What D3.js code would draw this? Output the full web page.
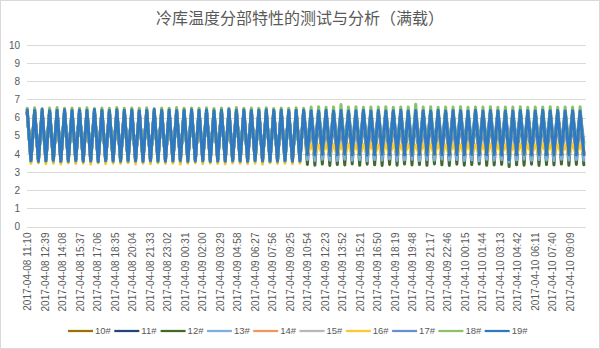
<!DOCTYPE html>
<html lang="zh">
<head>
<meta charset="utf-8">
<script src="https://cdn.jsdelivr.net/npm/d3@7/dist/d3.min.js"></script>
<style>
  body { margin: 0; background: #fff; }
  text { font-family: "Liberation Sans", "Noto Sans CJK SC", sans-serif; fill: #595959; }
  .title { font-family: "Noto Sans CJK SC", sans-serif; font-size: 16px; }
  .grid line { stroke: #d9d9d9; stroke-width: 1; }
  .axis path, .axis line { display: none; }
  .line { fill: none; stroke-width: 3; stroke-linejoin: round; stroke-linecap: round; }
  .legend text { font-size: 9.5px; }
</style>
</head>
<body>
<div id="chart"></div>
<script>

// 标题 / 系列
var title = "冷库温度分部特性的测试与分析（满载）";
var seriesNames = ["10#", "11#", "12#", "13#", "14#", "15#", "16#", "17#", "18#", "19#"];
var seriesColors = ["#997300", "#264478", "#43682B", "#7CAFDD", "#F1975A", "#B7B7B7", "#FFC72C", "#698ED0", "#8CC168", "#2F78C4"];

// x-axis category labels (every 89 min)
var tickLabels = ["2017-04-08 11:10", "2017-04-08 12:39", "2017-04-08 14:08", "2017-04-08 15:37", "2017-04-08 17:06",
    "2017-04-08 18:35", "2017-04-08 20:04", "2017-04-08 21:33", "2017-04-08 23:02", "2017-04-09 00:31",
    "2017-04-09 02:00", "2017-04-09 03:29", "2017-04-09 04:58", "2017-04-09 06:27", "2017-04-09 07:56",
    "2017-04-09 09:25", "2017-04-09 10:54", "2017-04-09 12:23", "2017-04-09 13:52", "2017-04-09 15:21",
    "2017-04-09 16:50", "2017-04-09 18:19", "2017-04-09 19:48", "2017-04-09 21:17", "2017-04-09 22:46",
    "2017-04-10 00:15", "2017-04-10 01:44", "2017-04-10 03:13", "2017-04-10 04:42", "2017-04-10 06:11",
    "2017-04-10 07:40", "2017-04-10 09:09"];
var yTicks = [0, 1, 2, 3, 4, 5, 6, 7, 8, 9, 10];

// samples: one reading every 19 min (alternating top / bottom of each cooling cycle)
var sampleStart = "2017-04-08 11:10";
var sampleStepMin = 19;

var s10 = [6.28,3.72,6.29,3.71,6.27,3.73,6.28,3.72,6.30,3.71,
    6.27,3.73,6.29,3.72,6.28,3.71,6.30,3.73,6.27,3.72,
    6.29,3.71,6.28,3.73,6.27,3.72,6.30,3.71,6.28,3.73,
    6.27,3.72,6.29,3.71,6.28,3.73,6.30,3.72,6.27,3.71,
    6.29,3.73,6.28,3.72,6.27,3.71,6.30,3.73,6.28,3.72,
    6.27,3.71,6.29,3.73,6.28,3.72,6.30,3.71,6.27,3.73,
    6.29,3.72,6.28,3.71,6.27,3.73,6.30,3.72,6.28,3.71,
    6.27,3.73,6.29,3.72,6.28,
    4.08,6.22,4.07,6.23,4.09,6.21,4.08,6.22,4.10,6.23,
    4.07,6.21,4.09,6.22,4.08,6.23,4.07,6.21,4.10,6.22,
    4.08,6.23,4.09,6.21,4.07,6.22,4.08,6.23,4.10,6.21,
    4.07,6.22,4.09,6.23,4.08,6.21,4.07,6.22,4.10,6.23,
    4.08,6.21,4.09,6.22,4.07,6.23,4.08,6.21,4.10,6.22,
    4.07,6.23,4.09,6.21,4.08,6.22,4.07,6.23,4.10,6.21,
    4.08,6.22,4.09,6.23,4.07,6.21,4.08,6.22,4.10,6.23,
    4.07,6.21,4.09,6.22,4.08];

var s11 = [6.30,3.70,6.31,3.69,6.29,3.71,6.30,3.70,6.32,3.69,
    6.29,3.71,6.31,3.70,6.30,3.69,6.32,3.71,6.29,3.70,
    6.31,3.69,6.30,3.71,6.29,3.70,6.32,3.69,6.30,3.71,
    6.29,3.70,6.31,3.69,6.30,3.71,6.32,3.70,6.29,3.69,
    6.31,3.71,6.30,3.70,6.29,3.69,6.32,3.71,6.30,3.70,
    6.29,3.69,6.31,3.71,6.30,3.70,6.32,3.69,6.29,3.71,
    6.31,3.70,6.30,3.69,6.29,3.71,6.32,3.70,6.30,3.69,
    6.29,3.71,6.31,3.70,6.30,
    3.90,6.30,3.89,6.31,3.91,6.29,3.90,6.30,3.92,6.31,
    3.89,6.29,3.91,6.30,3.90,6.31,3.89,6.29,3.92,6.30,
    3.90,6.31,3.91,6.29,3.89,6.30,3.90,6.31,3.92,6.29,
    3.89,6.30,3.91,6.31,3.90,6.29,3.89,6.30,3.92,6.31,
    3.90,6.29,3.91,6.30,3.89,6.31,3.90,6.29,3.92,6.30,
    3.89,6.31,3.91,6.29,3.90,6.30,3.89,6.31,3.92,6.29,
    3.90,6.30,3.91,6.31,3.89,6.29,3.90,6.30,3.92,6.31,
    3.89,6.29,3.91,6.30,3.90];

var s12 = [6.28,3.66,6.27,3.67,6.29,3.65,6.28,3.66,6.26,3.67,
    6.29,3.65,6.27,3.66,6.28,3.67,6.26,3.65,6.29,3.66,
    6.27,3.67,6.28,3.65,6.29,3.66,6.26,3.67,6.28,3.65,
    6.27,3.66,6.29,3.67,6.28,3.65,6.26,3.66,6.27,3.67,
    6.29,3.65,6.28,3.66,6.27,3.67,6.26,3.65,6.29,3.66,
    6.28,3.67,6.27,3.65,6.29,3.66,6.26,3.67,6.28,3.65,
    6.27,3.66,6.29,3.67,6.28,3.65,6.26,3.66,6.27,3.67,
    6.29,3.65,6.28,3.66,6.27,
    3.42,6.20,3.38,6.21,3.44,6.19,3.36,6.20,3.41,6.22,
    3.39,6.19,3.45,6.21,3.37,6.20,3.43,6.22,3.40,6.19,
    3.36,6.21,3.42,6.20,3.38,6.22,3.44,6.19,3.39,6.21,
    3.41,6.20,3.37,6.22,3.45,6.19,3.40,6.21,3.36,6.20,
    3.43,6.22,3.38,6.19,3.41,6.21,3.44,6.20,3.37,6.22,
    3.39,6.19,3.42,6.21,3.30,6.20,3.40,6.22,3.38,6.19,
    3.43,6.21,3.36,6.20,3.41,6.22,3.39,6.19,3.44,6.21,
    3.37,6.20,3.42,6.22,3.40];

var s13 = [6.30,3.68,6.31,3.67,6.29,3.69,6.30,3.68,6.32,3.67,
    6.29,3.69,6.31,3.68,6.30,3.67,6.32,3.69,6.29,3.68,
    6.31,3.67,6.30,3.69,6.29,3.68,6.32,3.67,6.30,3.69,
    6.29,3.68,6.31,3.67,6.30,3.69,6.32,3.68,6.29,3.67,
    6.31,3.69,6.30,3.68,6.29,3.67,6.32,3.69,6.30,3.68,
    6.29,3.67,6.31,3.69,6.30,3.68,6.32,3.67,6.29,3.69,
    6.31,3.68,6.30,3.67,6.29,3.69,6.32,3.68,6.30,3.67,
    6.29,3.69,6.31,3.68,6.30,
    3.68,6.22,3.64,6.23,3.70,6.21,3.66,6.22,3.63,6.24,
    3.71,6.21,3.65,6.23,3.68,6.22,3.62,6.24,3.69,6.21,
    3.66,6.23,3.72,6.22,3.64,6.24,3.67,6.21,3.70,6.23,
    3.63,6.22,3.68,6.24,3.65,6.21,3.71,6.23,3.66,6.22,
    3.69,6.24,3.64,6.21,3.67,6.23,3.62,6.22,3.70,6.24,
    3.65,6.21,3.68,6.23,3.55,6.22,3.66,6.24,3.71,6.21,
    3.64,6.23,3.69,6.22,3.67,6.24,3.63,6.21,3.70,6.23,
    3.66,6.22,3.68,6.24,3.65];

var s14 = [6.28,3.74,6.29,3.73,6.27,3.75,6.28,3.74,6.30,3.73,
    6.27,3.75,6.29,3.74,6.28,3.73,6.30,3.75,6.27,3.74,
    6.29,3.73,6.28,3.75,6.27,3.74,6.30,3.73,6.28,3.75,
    6.27,3.74,6.29,3.73,6.28,3.75,6.30,3.74,6.27,3.73,
    6.29,3.75,6.28,3.74,6.27,3.73,6.30,3.75,6.28,3.74,
    6.27,3.73,6.29,3.75,6.28,3.74,6.30,3.73,6.27,3.75,
    6.29,3.74,6.28,3.73,6.27,3.75,6.30,3.74,6.28,3.73,
    6.27,3.75,6.29,3.74,6.28,
    4.05,6.26,4.04,6.27,4.06,6.25,4.05,6.26,4.07,6.27,
    4.04,6.25,4.06,6.26,4.05,6.27,4.04,6.25,4.07,6.26,
    4.05,6.27,4.06,6.25,4.04,6.26,4.05,6.27,4.07,6.25,
    4.04,6.26,4.06,6.27,4.05,6.25,4.04,6.26,4.07,6.27,
    4.05,6.25,4.06,6.26,4.04,6.27,4.05,6.25,4.07,6.26,
    4.04,6.27,4.06,6.25,4.05,6.26,4.04,6.27,4.07,6.25,
    4.05,6.26,4.06,6.27,4.04,6.25,4.05,6.26,4.07,6.27,
    4.04,6.25,4.06,6.26,4.05];

var s15 = [6.30,3.72,6.31,3.71,6.29,3.73,6.30,3.72,6.32,3.71,
    6.29,3.73,6.31,3.72,6.30,3.71,6.32,3.73,6.29,3.72,
    6.31,3.71,6.30,3.73,6.29,3.72,6.32,3.71,6.30,3.73,
    6.29,3.72,6.31,3.71,6.30,3.73,6.32,3.72,6.29,3.71,
    6.31,3.73,6.30,3.72,6.29,3.71,6.32,3.73,6.30,3.72,
    6.29,3.71,6.31,3.73,6.30,3.72,6.32,3.71,6.29,3.73,
    6.31,3.72,6.30,3.71,6.29,3.73,6.32,3.72,6.30,3.71,
    6.29,3.73,6.31,3.72,6.30,
    4.52,5.90,4.49,5.92,4.55,5.88,4.50,5.91,4.57,5.89,
    4.48,5.92,4.53,5.90,4.51,5.88,4.56,5.91,4.49,5.89,
    4.54,5.92,4.50,5.90,4.58,5.88,4.52,5.91,4.48,5.89,
    4.55,5.92,4.51,5.90,4.53,5.88,4.49,5.91,4.57,5.89,
    4.50,5.92,4.54,5.90,4.52,5.88,4.48,5.91,4.56,5.89,
    4.51,5.92,4.53,5.90,4.45,5.88,4.55,5.91,4.50,5.89,
    4.52,5.92,4.49,5.90,4.57,5.88,4.51,5.91,4.54,5.89,
    4.48,5.92,4.53,5.90,4.52];

var s16 = [6.46,3.48,6.44,3.50,6.47,3.46,6.45,3.49,6.48,3.45,
    6.44,3.51,6.46,3.47,6.49,3.48,6.45,3.44,6.47,3.50,
    6.44,3.46,6.48,3.49,6.45,3.47,6.46,3.52,6.49,3.45,
    6.44,3.48,6.47,3.46,6.45,3.50,6.48,3.47,6.44,3.49,
    6.46,3.44,6.49,3.48,6.45,3.51,6.47,3.46,6.44,3.49,
    6.48,3.47,6.45,3.45,6.46,3.50,6.49,3.48,6.44,3.46,
    6.47,3.49,6.45,3.44,6.48,3.51,6.46,3.47,6.44,3.48,
    6.47,3.46,6.45,3.49,6.46,
    3.98,4.52,3.96,4.50,4.00,4.54,3.95,4.51,3.99,4.49,
    3.97,4.53,4.01,4.48,3.94,4.52,3.98,4.55,3.96,4.50,
    4.00,4.51,3.95,4.54,3.99,4.49,3.97,4.52,4.02,4.48,
    3.96,4.53,3.98,4.51,3.94,4.55,4.00,4.50,3.97,4.52,
    3.99,4.49,3.95,4.54,3.98,4.51,4.01,4.48,3.96,4.53,
    3.97,4.50,4.00,4.52,3.86,4.46,3.98,4.54,3.95,4.51,
    3.99,4.49,3.97,4.53,4.01,4.50,3.96,4.52,3.98,4.48,
    3.95,4.55,3.99,4.51,3.97];

var s17 = [6.32,3.70,6.33,3.69,6.31,3.71,6.32,3.70,6.34,3.69,
    6.31,3.71,6.33,3.70,6.32,3.69,6.34,3.71,6.31,3.70,
    6.33,3.69,6.32,3.71,6.31,3.70,6.34,3.69,6.32,3.71,
    6.31,3.70,6.33,3.69,6.32,3.71,6.34,3.70,6.31,3.69,
    6.33,3.71,6.32,3.70,6.31,3.69,6.34,3.71,6.32,3.70,
    6.31,3.69,6.33,3.71,6.32,3.70,6.34,3.69,6.31,3.71,
    6.33,3.70,6.32,3.69,6.31,3.71,6.34,3.70,6.32,3.69,
    6.31,3.71,6.33,3.70,6.32,
    4.62,6.30,4.60,6.31,4.65,6.29,4.58,6.30,4.63,6.32,
    4.66,6.29,4.61,6.31,4.59,6.30,4.64,6.32,4.62,6.29,
    4.60,6.31,4.67,6.30,4.63,6.32,4.58,6.29,4.65,6.31,
    4.61,6.30,4.64,6.32,4.60,6.29,4.66,6.31,4.62,6.30,
    4.59,6.32,4.63,6.29,4.67,6.31,4.61,6.30,4.64,6.32,
    4.60,6.29,4.62,6.31,4.50,6.30,4.65,6.32,4.61,6.29,
    4.63,6.31,4.59,6.30,4.66,6.32,4.62,6.29,4.60,6.31,
    4.64,6.30,4.61,6.32,4.63];

var s18 = [6.52,3.58,6.54,3.56,6.50,3.59,6.53,3.57,6.55,3.58,
    6.51,3.56,6.53,3.59,6.52,3.57,6.54,3.58,6.50,3.56,
    6.53,3.59,6.52,3.57,6.55,3.58,6.51,3.56,6.53,3.59,
    6.52,3.57,6.54,3.58,6.50,3.56,6.53,3.59,6.52,3.57,
    6.55,3.58,6.51,3.56,6.53,3.59,6.52,3.57,6.54,3.58,
    6.50,3.56,6.53,3.59,6.52,3.57,6.55,3.58,6.51,3.56,
    6.53,3.59,6.52,3.57,6.54,3.58,6.50,3.56,6.53,3.59,
    6.52,3.57,6.54,3.58,6.51,
    4.02,6.58,4.00,6.60,4.03,6.57,4.01,6.59,4.02,6.72,
    4.00,6.58,4.03,6.60,4.01,6.57,4.02,6.59,4.00,6.58,
    4.03,6.60,4.01,6.57,4.02,6.59,4.00,6.58,4.03,6.74,
    4.01,6.58,4.02,6.60,4.00,6.57,4.03,6.59,4.01,6.58,
    4.02,6.60,4.00,6.57,4.03,6.59,4.01,6.58,4.02,6.60,
    4.00,6.57,4.03,6.59,3.80,6.58,4.02,6.60,4.00,6.57,
    4.03,6.59,4.01,6.58,4.02,6.60,4.00,6.57,4.03,6.59,
    4.01,6.58,4.02,6.60,4.00];

var s19 = [6.42,3.63,6.40,3.60,6.44,3.62,6.38,3.65,6.41,3.59,
    6.43,3.61,6.39,3.64,6.42,3.60,6.40,3.62,6.45,3.58,
    6.41,3.63,6.39,3.61,6.43,3.60,6.40,3.64,6.42,3.62,
    6.38,3.59,6.41,3.63,6.44,3.61,6.40,3.60,6.42,3.62,
    6.39,3.64,6.41,3.60,6.43,3.61,6.40,3.63,6.42,3.59,
    6.38,3.62,6.41,3.60,6.44,3.63,6.40,3.61,6.42,3.60,
    6.39,3.64,6.41,3.62,6.43,3.60,6.40,3.61,6.42,3.63,
    6.39,3.60,6.41,3.62,6.40,
    3.96,6.38,3.94,6.36,3.97,6.40,3.93,6.37,3.95,6.39,
    3.98,6.36,3.94,6.38,3.96,6.41,3.93,6.37,3.95,6.39,
    3.97,6.36,3.94,6.38,3.96,6.40,3.95,6.37,3.93,6.39,
    3.96,6.38,3.94,6.36,3.97,6.40,3.95,6.37,3.94,6.39,
    3.96,6.38,3.95,6.36,3.97,6.40,3.94,6.37,3.95,6.39,
    3.96,6.38,3.94,6.37,3.68,6.36,3.95,6.39,3.97,6.38,
    3.94,6.37,3.96,6.40,3.95,6.38,3.94,6.39,3.96,6.37,
    3.95,6.38,3.94,6.36,3.96];

var seriesValues = [s10, s11, s12, s13, s14, s15, s16, s17, s18, s19];

var W = 600, H = 349;
var plot = {left: 27, right: 586, top: 45, bottom: 226.5};

var parseTime = d3.timeParse("%Y-%m-%d %H:%M");
var t0 = parseTime(sampleStart);
var tickDates = tickLabels.map(function (s) { return parseTime(s); });

var svg = d3.select("#chart").append("svg")
    .attr("width", W)
    .attr("height", H);

svg.append("rect")
    .attr("x", 0.5).attr("y", 0.5)
    .attr("width", W - 1).attr("height", H - 1)
    .attr("fill", "#fff")
    .attr("stroke", "#d9d9d9");

var x = d3.scaleTime()
    .domain([parseTime("2017-04-08 11:09"), parseTime("2017-04-10 10:32")])
    .range([plot.left, plot.right]);

var y = d3.scaleLinear()
    .domain([0, 10])
    .range([plot.bottom, plot.top]);

// title
svg.append("text")
    .attr("class", "title")
    .attr("x", W / 2)
    .attr("y", 24)
    .attr("text-anchor", "middle")
    .text(title);

// gridlines
svg.append("g")
    .attr("class", "grid")
    .selectAll("line")
    .data(yTicks)
    .enter().append("line")
    .attr("x1", plot.left)
    .attr("x2", plot.right)
    .attr("y1", function (d) { return Math.round(y(d)) + 0.5; })
    .attr("y2", function (d) { return Math.round(y(d)) + 0.5; });

// y axis
svg.append("g")
    .attr("class", "axis")
    .attr("transform", "translate(" + plot.left + ",0)")
    .call(d3.axisLeft(y).tickValues(yTicks).tickSize(0).tickPadding(7))
    .selectAll("text")
    .style("font-size", "10px");

// x axis
var xAxis = svg.append("g")
    .attr("class", "axis")
    .attr("transform", "translate(0," + plot.bottom + ")")
    .call(d3.axisBottom(x)
        .tickValues(tickDates)
        .tickSize(0)
        .tickFormat(function (d, i) { return tickLabels[i]; }));

xAxis.selectAll("text")
    .style("font-size", "10px")
    .style("text-anchor", "end")
    .attr("transform", "rotate(-90)")
    .attr("x", -6)
    .attr("y", 0)
    .attr("dy", "0.35em");

// lines
var line = d3.line()
    .x(function (d, i) { return x(d3.timeMinute.offset(t0, i * sampleStepMin)); })
    .y(function (d) { return y(d); });

svg.append("g")
    .selectAll("path")
    .data(seriesValues)
    .enter().append("path")
    .attr("class", "line")
    .attr("stroke", function (d, i) { return seriesColors[i]; })
    .attr("d", line);

// legend
var legendX = 68, legendY = 331, itemW = 46.3;
var legend = svg.append("g")
    .attr("class", "legend")
    .selectAll("g")
    .data(seriesNames)
    .enter().append("g")
    .attr("transform", function (d, i) { return "translate(" + (legendX + i * itemW) + "," + legendY + ")"; });

legend.append("line")
    .attr("x1", 0).attr("x2", 25)
    .attr("y1", 0).attr("y2", 0)
    .attr("stroke-width", 2.25)
    .attr("stroke", function (d, i) { return seriesColors[i]; });

legend.append("text")
    .attr("x", 27)
    .attr("y", 0)
    .attr("dy", "0.35em")
    .text(function (d) { return d; });

</script>
</body>
</html>
